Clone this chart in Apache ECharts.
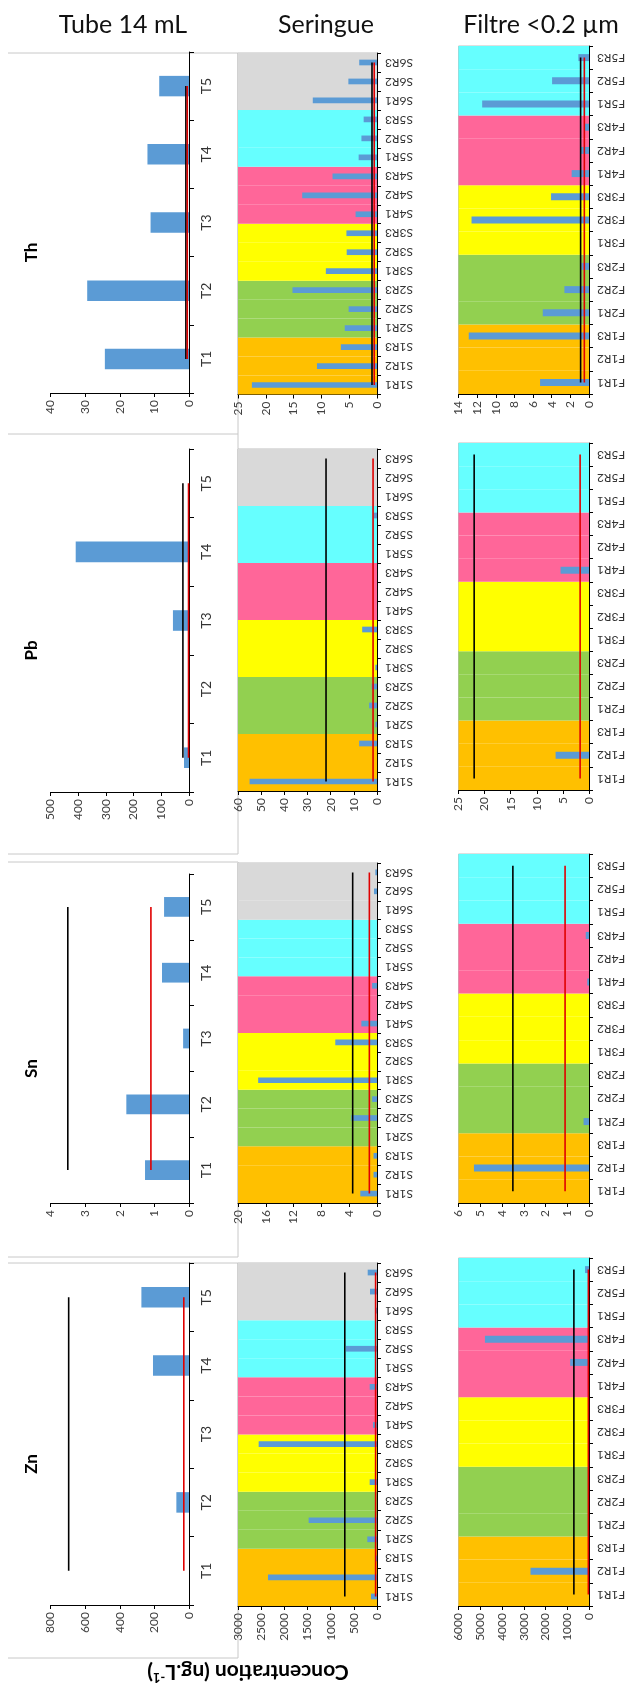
<!DOCTYPE html>
<html><head><meta charset="utf-8">
<script src="https://cdn.jsdelivr.net/npm/echarts@6/dist/echarts.min.js"></script>
<style>html,body{margin:0;padding:0;background:#fff}#c{width:625px;height:1690px}</style>
</head><body><div id="c"></div>
<script>
// ---------- DATA ----------
const columnTitles = ['Tube 14 mL', 'Seringue', 'Filtre <0.2 µm'];
const elements = ['Th', 'Pb', 'Sn', 'Zn'];
const tubeCats = ['T1', 'T2', 'T3', 'T4', 'T5'];
const seringueCats = ['S1R1','S1R2','S1R3','S2R1','S2R2','S2R3','S3R1','S3R2','S3R3','S4R1','S4R2','S4R3','S5R1','S5R2','S5R3','S6R1','S6R2','S6R3'];
const filtreCats = ['F1R1','F1R2','F1R3','F2R1','F2R2','F2R3','F3R1','F3R2','F3R3','F4R1','F4R2','F4R3','F5R1','F5R2','F5R3'];

// Th
const thTube = [24.3, 29.4, 11.1, 12.0, 8.6];
const thSeringue = [22.5, 10.8, 6.5, 5.8, 5.1, 15.2, 9.2, 5.45, 5.5, 3.85, 13.45, 8.0, 3.3, 2.8, 2.4, 11.55, 5.15, 3.2];
const thFiltre = [5.25, 0, 12.9, 4.96, 2.64, 0.8, 0, 12.6, 4.07, 1.86, 0.96, 0.5, 11.46, 3.96, 1.14];
const thRef = [0.9, 0.5];            // [black line, red line]
const thAxisMax = [40, 25, 14];
const thAxisStep = [10, 5, 2];

// Pb
const pbTube = [18, 0, 58, 409, 0];
const pbSeringue = [55, 0, 7.7, 0.7, 3.4, 2.3, 0.7, 0, 6.4, 0, 0, 0, 0, 0, 1.4, 0, 0, 0];
const pbFiltre = [0, 6.4, 0, 0, 0, 0, 0, 0, 0, 5.45, 0, 0, 0, 0, 0];
const pbRef = [22, 1.7];
const pbAxisMax = [500, 60, 25];
const pbAxisStep = [100, 10, 5];

// Sn
const snTube = [1.27, 1.81, 0.17, 0.78, 0.72];
const snSeringue = [2.4, 0.5, 0.5, 0, 3.7, 0.7, 17.1, 0, 6.0, 2.25, 0, 0.7, 0, 0, 0, 0, 0.43, 0.24];
const snFiltre = [0, 5.29, 0, 0.25, 0, 0, 0, 0, 0, 0.08, 0, 0.15, 0, 0, 0];
const snRef = [3.5, 1.1];
const snAxisMax = [4, 20, 6];
const snAxisStep = [1, 4, 1];

// Zn
const znTube = [0, 73, 0, 208, 275];
const znSeringue = [129, 2353, 22, 209, 1475, 0, 158, 0, 2554, 86, 0, 158, 0, 669, 0, 36, 151, 201];
const znFiltre = [0, 2690, 0, 0, 0, 0, 0, 0, 0, 0, 866, 4785, 0, 0, 182];
const znRef = [695, 30];
const znAxisMax = [800, 3000, 6000];
const znAxisStep = [200, 500, 1000];

const yTitle = 'Concentration (ng.L';
const yTitleSup = '-1';

// ---------- STYLE / LAYOUT ----------
const FONT = 'Lato, "Liberation Sans", sans-serif';
const groupColors = {'1':'#FFC000','2':'#92D050','3':'#FFFF00','4':'#FF6699','5':'#66FFFF','6':'#D9D9D9'};
const colLayout = [{left:50.5,width:138.5},{left:238,width:139},{left:458.5,width:130.5}];
const rowLayout = [
  [[52,393],[449,792],[874,1203],[1263,1605]],
  [[53,394.5],[449,791],[863,1203],[1263,1606]],
  [[46,394],[443,790],[854,1203],[1258,1606]]
];
const rowsData = [
  {vals:[thTube,thSeringue,thFiltre], ref:thRef, max:thAxisMax, step:thAxisStep},
  {vals:[pbTube,pbSeringue,pbFiltre], ref:pbRef, max:pbAxisMax, step:pbAxisStep},
  {vals:[snTube,snSeringue,snFiltre], ref:snRef, max:snAxisMax, step:snAxisStep},
  {vals:[znTube,znSeringue,znFiltre], ref:znRef, max:znAxisMax, step:znAxisStep}
];
const colCats = [tubeCats, seringueCats, filtreCats];

const grids = [], xAxes = [], yAxes = [], series = [];
rowsData.forEach((rd, r) => {
  for (let c = 0; c < 3; c++) {
    const cats = colCats[c];
    const [top, bottom] = rowLayout[c][r];
    const gi = grids.length;
    grids.push({left: colLayout[c].left, top: top, width: colLayout[c].width, height: bottom - top,
      show: c > 0, borderColor: '#BFBFBF', borderWidth: 1, backgroundColor: 'transparent',
      outerBoundsMode: 'none', containLabel: false});
    const xi = xAxes.length;
    xAxes.push({gridIndex: gi, type: 'value', inverse: true, min: 0, max: rd.max[c], interval: rd.step[c],
      position: 'bottom',
      axisLine: {show: true, onZero: false, lineStyle: {color: '#000', width: 1}},
      axisTick: {show: true, length: 4, lineStyle: {color: '#000'}},
      axisLabel: {rotate: 90, fontSize: 12, color: '#404040', margin: 7, fontFamily: FONT,
        showMinLabel: true, showMaxLabel: true, formatter: v => String(v)},
      splitLine: {show: false}});
    const yi = yAxes.length;
    yAxes.push({gridIndex: gi, type: 'category', data: cats, position: 'right',
      axisLine: {show: true, onZero: false, lineStyle: {color: '#000', width: 1}},
      axisTick: {show: true, length: c === 0 ? 5 : 4, lineStyle: {color: '#000'}},
      axisLabel: {rotate: c === 0 ? 90 : 180, fontSize: c === 0 ? 14 : 12, color: '#333', margin: c === 0 ? 10 : 8,
        interval: 0, fontFamily: FONT},
      splitLine: {show: false}});
    if (c > 0) {
      const bi = yAxes.length;
      yAxes.push({gridIndex: gi, type: 'category', data: cats, show: false});
      series.push({type: 'bar', xAxisIndex: xi, yAxisIndex: bi, silent: true, z: 1, barWidth: '100%',
        data: cats.map(k => ({value: rd.max[c], itemStyle: {color: groupColors[k[1]]}}))});
    }
    series.push({type: 'bar', xAxisIndex: xi, yAxisIndex: yi, z: 2, barWidth: '30%',
      itemStyle: {color: '#5B9BD5'}, data: rd.vals[c]});
    series.push({type: 'line', xAxisIndex: xi, yAxisIndex: yi, z: 3, symbol: 'none', silent: true,
      lineStyle: {color: '#000', width: 1.6}, data: cats.map((k, i) => [rd.ref[0], i])});
    series.push({type: 'line', xAxisIndex: xi, yAxisIndex: yi, z: 4, symbol: 'none', silent: true,
      lineStyle: {color: '#E00000', width: 1.6}, data: cats.map((k, i) => [rd.ref[1], i])});
  }
});

const graphic = [];
const headerX = [123, 326, 541];
columnTitles.forEach((t, i) => graphic.push({type: 'text', x: headerX[i], y: 25,
  style: {text: t, font: '25px ' + FONT, fill: '#111', textAlign: 'center', textVerticalAlign: 'middle'}}));
elements.forEach((el, r) => {
  const [top, bottom] = rowLayout[0][r];
  graphic.push({type: 'text', x: 32, y: (top + bottom) / 2 + 30, rotation: Math.PI / 2,
    style: {text: el, font: 'bold 17px ' + FONT, fill: '#000', textAlign: 'center', textVerticalAlign: 'middle'}});
});
graphic.push({type: 'text', x: 248, y: 1672, rotation: Math.PI,
  style: {text: yTitle + '{s|' + yTitleSup + '}' + ')', font: 'bold 21px ' + FONT, fill: '#000',
    textAlign: 'center', textVerticalAlign: 'middle',
    rich: {s: {font: 'bold 13px ' + FONT, fill: '#000', padding: [0, 0, 10, 0]}}}});
// tube chart-area borders (open polylines: top/right/bottom edges)
const borderPaths = [
  [[8, 53], [238, 53], [238, 434]],
  [[8, 434], [238, 434], [238, 854], [8, 854]],
  [[8, 862], [238, 862], [238, 1257], [8, 1257]],
  [[8, 1263], [238, 1263], [238, 1658], [8, 1658]]
];
borderPaths.forEach(pts => {
  graphic.push({type: 'polyline', shape: {points: pts},
    style: {stroke: '#C8C8C8', lineWidth: 1, fill: null}, z: -1});
});

const chart = echarts.init(document.getElementById('c'), null, {renderer: 'canvas'});
chart.setOption({animation: false, backgroundColor: '#fff', grid: grids, xAxis: xAxes, yAxis: yAxes,
  series: series, graphic: graphic});
</script></body></html>
